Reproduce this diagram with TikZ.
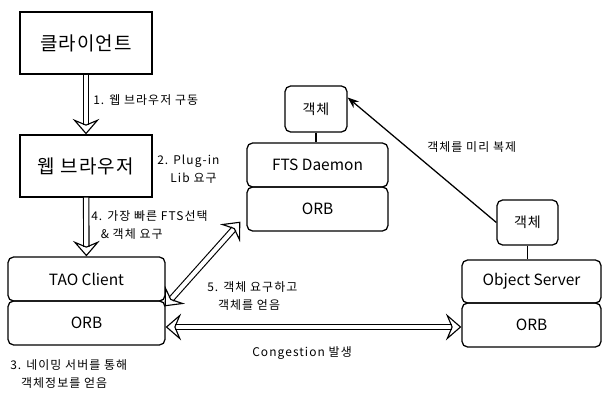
\documentclass[tikz,border=0pt]{standalone}
\usepackage{fontspec}
\setmainfont{Noto Sans CJK KR}
\usetikzlibrary{arrows.meta,calc}

\begin{document}
\begin{tikzpicture}[x=0.025cm, y=-0.025cm,
    box/.style={draw=black, line width=0.9pt, inner sep=0pt, font=\fontsize{13.5}{15}\selectfont\addfontfeatures{LetterSpace=6}},
    rbox/.style={draw=black, line width=0.9pt, rounded corners=4pt, inner sep=0pt, font=\fontsize{11}{13}\selectfont},
    objbox/.style={rbox, font=\fontsize{10}{12}\selectfont\addfontfeatures{LetterSpace=6}},
    lbl/.style={anchor=west, align=left, inner sep=0pt, font=\fontsize{8.5}{12.8}\selectfont\addfontfeatures{LetterSpace=9}},
    fat/.style={double, double distance=3pt, line width=0.8pt, -{Stealth[open, length=11pt, width=19pt, inset=4pt]}},
    fatboth/.style={fat, {Stealth[open, length=11pt, width=19pt, inset=4pt]}-{Stealth[open, length=11pt, width=19pt, inset=4pt]}}]
    \useasboundingbox (0,0) rectangle (602,394);

    % client side
    \node[box, minimum width=3.3cm, minimum height=1.55cm] at (86,43) (client) {클라이언트};
    \node[box, minimum width=3.3cm, minimum height=1.55cm] at (86,166) (browser) {웹 브라우저};
    \node[rbox, minimum width=3.925cm, minimum height=1.1cm] at (86.5,279) (tao) {TAO Client};
    \node[rbox, minimum width=3.925cm, minimum height=1.1cm] at (86.5,323) (taoorb) {ORB};

    % FTS daemon
    \node[objbox, minimum width=1.55cm, minimum height=1.15cm] at (316,109) (ftsobj) {객체};
    \node[rbox, minimum width=3.525cm, minimum height=1.1cm] at (317.5,165) (fts) {FTS Daemon};
    \node[rbox, minimum width=3.525cm, minimum height=1.1cm] at (317.5,209) (ftsorb) {ORB};

    % object server
    \node[objbox, minimum width=1.525cm, minimum height=1.125cm] at (527.5,222.5) (srvobj) {객체};
    \node[rbox, minimum width=3.475cm, minimum height=1.075cm] at (531.5,281.5) (srv) {Object Server};
    \node[rbox, minimum width=3.475cm, minimum height=1.1cm] at (531.5,325) (srvorb) {ORB};

    \draw[line width=0.9pt] (ftsobj.south) -- (ftsobj.south |- fts.north);
    \draw[line width=0.9pt] (srvobj.south) -- (srvobj.south |- srv.north);

    % requests
    \coordinate (cgleft) at ($(taoorb.east)+(0,4)$);
    \draw[fat] (client) -- (browser);
    \draw[fat] (browser) -- (tao);
    \draw[fatboth] ($(taoorb.north east)+(-1,6)$) -- ($(ftsorb.south west)+(-6,-10)$);
    \draw[fatboth] (cgleft) -- (cgleft -| srvorb.west);
    \draw[line width=0.9pt, -{Stealth[length=8pt,width=6pt]}] (srvobj.west) -- (ftsobj.20);

    % labels
    \node[lbl] at (93,100) (l1) {1. 웹 브라우저 구동};
    \node[lbl] at (157,169) (l2) {2. Plug-in\\\hspace{1.1em}Lib 요구};
    \node[lbl] at (91,225) (l4) {4. 가장 빠른 FTS선택\\\hspace{0.8em}\& 객체 요구};
    \node[lbl] at (10,374) (l3) {3. 네이밍 서버를 통해\\\hspace{0.9em}객체정보를 얻음};
    \node[lbl] at (207,296) (l5) {5. 객체 요구하고\\\hspace{0.9em}객체를 얻음};
    \node[lbl] at (252,353) (lc) {Congestion 발생};
    \node[lbl] at (427,147) (lr) {객체를 미리 복제};
\end{tikzpicture}
\end{document}
